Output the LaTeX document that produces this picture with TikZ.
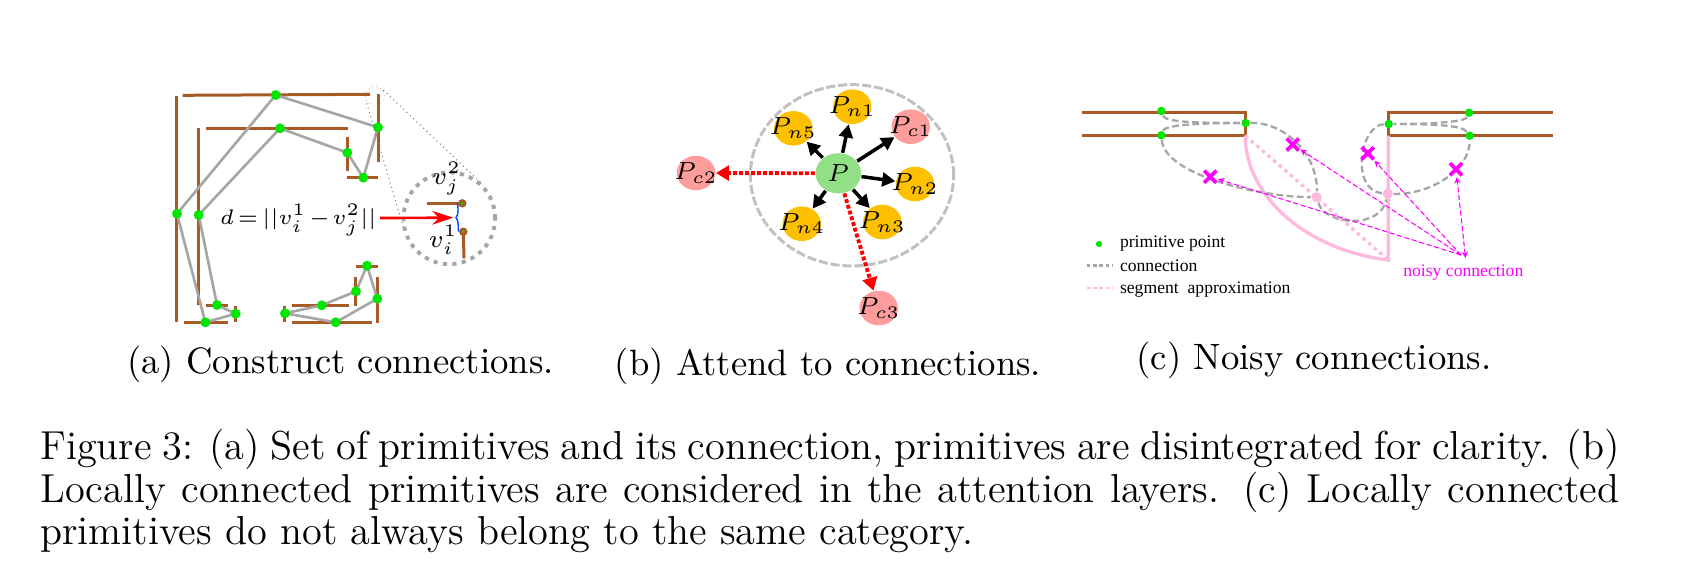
\documentclass[tikz,border=0pt]{standalone}
\usepackage{fontspec}
\usetikzlibrary{arrows.meta,shapes.geometric,shapes.misc,backgrounds}
\newfontfamily\legendfont{Liberation Serif}
\definecolor{primbrown}{HTML}{A65B25}
\definecolor{conngray}{HTML}{A6A6A6}
\definecolor{primgreen}{HTML}{00E600}
\definecolor{centergreen}{HTML}{92E085}
\definecolor{neighorange}{HTML}{FFC000}
\definecolor{farpink}{HTML}{FF9C9C}
\definecolor{segpink}{HTML}{FFB9DE}
\definecolor{noisymag}{HTML}{FF00FF}
\newcommand{\pname}[1]{\makebox[0pt]{$P_{#1}$}}
\begin{document}
\begin{tikzpicture}[x=0.2835pt,y=-0.2835pt,
    prim/.style={draw=primbrown, line width=0.85pt},
    conn/.style={draw=conngray, line width=0.75pt},
    dot/.style={circle, fill=primgreen, minimum size=2.8pt, inner sep=0pt},
    conncurve/.style={draw=conngray, line width=0.65pt, dash pattern=on 1.9pt off 1pt},
    segsolid/.style={draw=segpink, line width=0.95pt},
    segdot/.style={draw=segpink, line width=0.95pt, dash pattern=on 1pt off 1.1pt},
    pinkdot/.style={circle, fill=segpink, minimum size=2.9pt, inner sep=0pt},
    cand/.style={ellipse, inner sep=0pt, minimum width=10.9pt, minimum height=9.8pt,
      font=\fontsize{6.8}{8}\selectfont},
    neigh/.style={cand, fill=neighorange},
    far/.style={cand, fill=farpink},
    nbarrow/.style={-{Triangle[length=3.7pt,width=3.9pt]}, line width=1pt, black},
    fararrow/.style={-{Triangle[length=3.7pt,width=4.2pt]}, line width=1.1pt, red,
      dash pattern=on 1.1pt off 0.6pt},
    noisy/.style={draw=noisymag, cross out, line width=1.05pt, minimum size=2.4pt, inner sep=0pt},
    noisyarrow/.style={-{Stealth[length=1.8pt,width=1.8pt]}, draw=noisymag, fill=noisymag, line width=0.3pt,
      dash pattern=on 1.4pt off 0.8pt, shorten >=0.5pt},
    capt/.style={font=\fontsize{10.4}{12}\selectfont, inner sep=0pt},
    legend/.style={font=\legendfont\fontsize{5}{6}\selectfont, inner sep=0pt, anchor=west}
  ]
    \useasboundingbox (0,0) rectangle (1681,582);

    \node[dot] (va) at (275.7,95) {};
    \node[dot] (vb) at (378,127.3) {};
    \node[dot] (vc) at (280,128.3) {};
    \node[dot] (vd) at (347.3,152.7) {};
    \node[dot] (ve) at (363.3,177.7) {};
    \node[dot] (vf) at (177,213.7) {};
    \node[dot] (vg) at (198.7,215) {};
    \node[dot] (vh) at (217,305) {};
    \node[dot] (vi) at (235.7,313.7) {};
    \node[dot] (vj) at (205.3,322.3) {};
    \node[dot] (vk) at (285,313.3) {};
    \node[dot] (vl) at (321.7,305.3) {};
    \node[dot] (vm) at (335.7,322.3) {};
    \node[dot] (vn) at (356,291.3) {};
    \node[dot] (vo) at (367,265.7) {};
    \node[dot] (vq) at (377.3,298.7) {};
    \begin{scope}[on background layer]
      \draw[prim] (176.7,96) -- (176.7,321.7);
      \draw[prim] (182.7,95.3) -- (370,94.3);
      \draw[prim] (378,94.3) -- (378,161.7);
      \draw[prim] (198.3,128.3) -- (198.3,305);
      \draw[prim] (206,128.3) -- (348.3,128.3);
      \draw[prim] (347.3,136.7) -- (347.3,171);
      \draw[prim] (346.7,177.3) -- (378.3,177.3);
      \draw[prim] (206,305.3) -- (227.7,305.3);
      \draw[prim] (235,305.7) -- (235,321.7);
      \draw[prim] (184,322.3) -- (227.7,322.3);
      \draw[prim] (284.3,305.7) -- (284.3,321.7);
      \draw[prim] (291.7,305.3) -- (349.3,305.3);
      \draw[prim] (291.7,322) -- (371.7,322);
      \draw[prim] (355.3,277.3) -- (355.3,306);
      \draw[prim] (356,266) -- (377.7,266);
      \draw[prim] (377.7,277.3) -- (377.7,322.7);
      \draw[conn] (vf.center) -- (va.center) -- (vb.center) -- (ve.center) -- (vd.center) -- (vc.center)
        -- (vg.center) -- (vh.center) -- (vi.center) -- (vj.center) -- (vf.center);
      \draw[conn] (vk.center) -- (vl.center) -- (vn.center) -- (vo.center) -- (vq.center)
        -- (vm.center) -- (vk.center);
    \end{scope}

    \node[circle, draw=gray!70, densely dotted, line width=0.2pt, minimum size=5.4pt, inner sep=0pt] (zoomsmall) at (375,96) {};
    \node[circle, draw=conngray, line width=1.1pt, dash pattern=on 1.2pt off 1.5pt, minimum size=26pt, inner sep=0pt] (zoombig) at (449.3,218.3) {};
    \draw[gray, densely dotted, line width=0.3pt] (383.3,90) -- (483.3,185);
    \draw[gray, densely dotted, line width=0.3pt] (366.7,103.3) -- (403.3,226.7);
    \node[inner sep=0pt, font=\fontsize{6.2}{8}\selectfont] (dist) at (298.3,220)
      {\thickmuskip=3mu\medmuskip=2mu$d=||v_i^1-v_j^2||$};
    \coordinate (gapmid) at (453.3,217.7);
    \coordinate (bracetip) at (456,217.7);
    \draw[-{Stealth[length=6pt,width=3.9pt]}, red, line width=0.75pt] (dist.east) ++(3,-2) -- (gapmid);
    \draw[prim] (427.3,203.3) -- (462.3,203.3);
    \draw[prim] (463.3,231.7) -- (464,258.3);
    \node[circle, fill=primbrown, minimum size=2.4pt, inner sep=0pt] (endtop) at (462.3,203.3) {};
    \node[circle, fill=primbrown, minimum size=2.4pt, inner sep=0pt] (endbot) at (463.3,231.7) {};
    \node[circle, fill=primgreen, minimum size=0.7pt, inner sep=0pt] (tipj) at (462.3,203.3) {};
    \node[circle, fill=primgreen, minimum size=0.7pt, inner sep=0pt] (tipi) at (463.3,231.7) {};
    \draw[blue!70!cyan, line width=0.4pt] (endtop.west) .. controls (458,205) and (459,215) .. (bracetip)
      .. controls (459,220) and (458,229) .. (endbot.west);
    \node[inner sep=0pt, font=\fontsize{7.5}{9}\selectfont] (vj2) at (446.7,178.3) {$v_j^2$};
    \node[inner sep=0pt, font=\fontsize{7.5}{9}\selectfont] (vi1) at (443.3,240) {$v_i^1$};

    \node[ellipse, draw=conngray!70, line width=0.85pt, dash pattern=on 2.6pt off 0.8pt,
      minimum width=57.6pt, minimum height=51.4pt, inner sep=0pt] (zone) at (852,175.3) {};
    \node[cand, fill=centergreen, minimum width=12.9pt, minimum height=11.4pt] (P) at (838.3,173.3) {\makebox[0pt]{$P$}};
    \node[neigh] (Pn1) at (852.3,106.7) {\pname{n1}};
    \node[far] (Pc1) at (910.7,126.7) {\pname{c1}};
    \node[neigh] (Pn5) at (793.3,128.3) {\pname{n5}};
    \node[neigh] (Pn2) at (915,184) {\pname{n2}};
    \node[neigh] (Pn3) at (882.3,222) {\pname{n3}};
    \node[neigh] (Pn4) at (801.7,223.7) {\pname{n4}};
    \node[far] (Pc2) at (696,173) {\pname{c2}};
    \node[far] (Pc3) at (878.7,308) {\pname{c3}};
    \foreach \nb in {Pn1,Pc1,Pn5,Pn2,Pn3,Pn4}
      \draw[nbarrow] (P) -- (\nb);
    \draw[fararrow] (P) -- (Pc2);
    \draw[fararrow] (P) -- (Pc3);

    \draw[prim] (1082,112.3) -- (1245.3,112.3) -- (1245.3,135.7) -- (1082,135.7);
    \draw[prim] (1552.7,112.7) -- (1388.3,112.7) -- (1388.3,135.7) -- (1552.7,135.7);
    \node[dot, minimum size=2.4pt] (la) at (1161.3,111) {};
    \node[dot, minimum size=2.4pt] (lb) at (1161.3,135.3) {};
    \node[dot, minimum size=2.4pt] (lc) at (1245.7,123) {};
    \node[dot, minimum size=2.4pt] (ra) at (1469,112.7) {};
    \node[dot, minimum size=2.4pt] (rb) at (1469.7,135.7) {};
    \node[dot, minimum size=2.4pt] (rc) at (1388.7,124) {};
    \node[pinkdot] (sl) at (1316.7,197.3) {};
    \node[pinkdot] (sr) at (1387.7,193.7) {};
    \coordinate (arcl) at (1245.3,135.7);
    \coordinate (arcr) at (1388.3,260);
    \coordinate (boxr) at (1388.3,135.7);
    \draw[segsolid] (arcl) .. controls (1245,195) and (1305,250) .. (arcr) -- (boxr);
    \draw[segdot] (arcl) -- (arcr);
    \draw[conncurve] (la) .. controls (1165,122) and (1195,123) .. (lc);
    \draw[conncurve] (lb) .. controls (1165,125) and (1200,123) .. (lc);
    \draw[conncurve] (lb) .. controls (1165,175) and (1260,197) .. (sl);
    \draw[conncurve] (lc) .. controls (1285,122) and (1318,155) .. (sl);
    \draw[conncurve] (sl) .. controls (1325,225) and (1380,230) .. (sr);
    \draw[conncurve] (rc) .. controls (1360,125) and (1350,190) .. (sr);
    \draw[conncurve] (sr) .. controls (1430,195) and (1470,170) .. (rb);
    \draw[conncurve] (ra) .. controls (1465,122) and (1430,124) .. (rc);
    \draw[conncurve] (rb) .. controls (1462,125) and (1430,124) .. (rc);
    \node[noisy] (xa) at (1210.3,176.7) {};
    \node[noisy] (xb) at (1292.7,144.5) {};
    \node[noisy] (xc) at (1367.7,153.3) {};
    \node[noisy] (xd) at (1456,169.3) {};
    \coordinate (noisysrc) at (1461,255);
    \coordinate (noisybase) at (1465.5,258);
    \foreach \x in {xa,xb,xc}
      \draw[noisyarrow] (noisysrc) -- (\x);
    \draw[noisyarrow, {Stealth[length=1.8pt,width=1.8pt]}-{Stealth[length=1.8pt,width=1.8pt]}] (noisybase) -- (xd);

    \node[dot, minimum size=1.8pt] (legdot) at (1099,244) {};
    \node[legend] (legprim) at (1119.3,244) {primitive point};
    \node[legend] (legconn) at (1119.3,265.3) {connection};
    \node[legend] (legseg) at (1119.3,289.5) {segment\ \ approximation};
    \coordinate (connl) at (1086.7,265.3);
    \coordinate (segl) at (1086.7,288);
    \draw[draw=conngray, line width=0.8pt, dash pattern=on 1pt off 0.8pt] (connl) -- ++(26,0);
    \draw[draw=segpink, line width=0.8pt, dash pattern=on 1pt off 0.8pt] (segl) -- ++(26,0);
    \node[legend, anchor=center, text=noisymag] (noisylabel) at (1463.3,272.7) {noisy connection};

    \node[capt] (capa) at (340.5,364.5) {(a) Construct connections.};
    \node[capt] (capb) at (828,366.6) {(b) Attend to connections.};
    \node[capt] (capc) at (1314,360) {(c) Noisy connections.};
    \node[capt, font=\fontsize{11.46}{12}\selectfont, text width=447.7pt, align=justify] (figcap) at (829.9,491) {Figure 3: (a) Set of primitives and its connection, primitives are disintegrated for clarity. (b)\linebreak Locally connected primitives are considered in the attention layers. (c) Locally connected\linebreak primitives do not always belong to the same category.};
  \end{tikzpicture}
\end{document}
